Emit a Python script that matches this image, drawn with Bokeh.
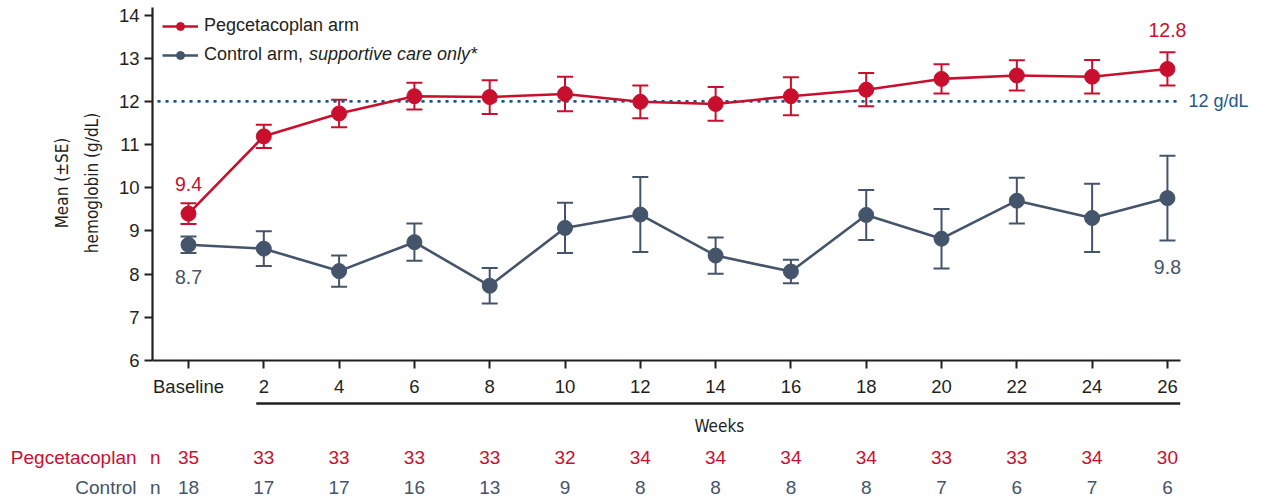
from bokeh.plotting import figure
from bokeh.models import (ColumnDataSource, Whisker, TeeHead, Legend, LegendItem,
                          FixedTicker, Range1d, LinearAxis)
from bokeh.layouts import column
from bokeh.embed import file_html
from bokeh.resources import INLINE
from bokeh.core.properties import value

# ---------------- data ----------------
weeks = ["Baseline", "2", "4", "6", "8", "10", "12", "14", "16", "18", "20", "22", "24", "26"]
peg_mean = [9.40, 11.19, 11.72, 12.12, 12.10, 12.17, 11.99, 11.94, 12.12, 12.27, 12.52, 12.60, 12.57, 12.75]
peg_se = [0.24, 0.27, 0.32, 0.31, 0.39, 0.40, 0.38, 0.39, 0.44, 0.385, 0.34, 0.35, 0.39, 0.385]
ctl_mean = [8.68, 8.59, 8.07, 8.74, 7.73, 9.07, 9.38, 8.43, 8.06, 9.37, 8.82, 9.70, 9.30, 9.76]
ctl_se = [0.19, 0.40, 0.36, 0.43, 0.41, 0.58, 0.87, 0.42, 0.27, 0.58, 0.69, 0.53, 0.79, 0.98]
peg_n = [35, 33, 33, 33, 33, 32, 34, 34, 34, 34, 33, 33, 34, 30]
ctl_n = [18, 17, 17, 16, 13, 9, 8, 8, 8, 8, 7, 6, 7, 6]
row_names = ["Pegcetacoplan", "Control"]
target = 12
label_first = ["9.4", "8.7"]
label_last = ["12.8", "9.8"]

# ---------------- style ----------------
RED = "#c8102e"
SLATE = "#44546a"
BLUE = "#1f5a8c"
INK = "#231f20"
FONT = "Liberation Sans"
NARROW = "'Liberation Sans Narrow', 'DejaVu Sans Condensed', 'Liberation Sans', sans-serif"

xs = list(range(len(weeks)))
X0, X1 = -0.478, 14.236
Y1 = 14.22
PPX = (1260 - 152) / (X1 - X0)
H1 = 399

peg_src = ColumnDataSource(dict(x=xs, y=peg_mean,
                                upper=[m + s for m, s in zip(peg_mean, peg_se)],
                                lower=[m - s for m, s in zip(peg_mean, peg_se)]))
ctl_src = ColumnDataSource(dict(x=xs, y=ctl_mean,
                                upper=[m + s for m, s in zip(ctl_mean, ctl_se)],
                                lower=[m - s for m, s in zip(ctl_mean, ctl_se)]))

p = figure(width=1264, height=H1, x_range=Range1d(X0, X1), y_range=Range1d(6, Y1),
           output_backend="svg", toolbar_location=None,
           min_border_left=152, min_border_right=4, min_border_top=5, min_border_bottom=39,
           x_axis_type=None, y_axis_type=None)
p.frame_align = False
p.outline_line_color = None
p.background_fill_color = "white"
p.border_fill_color = "white"

xaxis = LinearAxis(ticker=FixedTicker(ticks=xs),
                   major_label_overrides={i: w for i, w in enumerate(weeks)},
                   bounds=(X0, 13.17))
yaxis = LinearAxis(ticker=FixedTicker(ticks=list(range(6, 15))), bounds=(6, 14.17),
                   axis_label="Mean (±SE)\nhemoglobin (g/dL)")
for ax in (xaxis, yaxis):
    ax.axis_line_color = INK
    ax.axis_line_width = 2.2
    ax.major_tick_line_color = INK
    ax.major_tick_line_width = 2
    ax.major_tick_out = 8
    ax.major_tick_in = 0
    ax.minor_tick_line_color = None
    ax.major_label_text_font = FONT
    ax.major_label_text_font_size = "18.5px"
    ax.major_label_text_color = INK
xaxis.major_label_standoff = 7
yaxis.major_label_standoff = 5
yaxis.axis_label_text_font = NARROW
yaxis.axis_label_text_font_size = "17px"
yaxis.axis_label_text_font_style = "normal"
yaxis.axis_label_text_color = INK
yaxis.axis_label_text_line_height = 1.5
yaxis.axis_label_standoff = 14
p.add_layout(xaxis, "below")
p.add_layout(yaxis, "left")

# target line
p.segment(x0=[X0 + 0.08], x1=[13.13], y0=[target], y1=[target], line_color=BLUE,
          line_width=2.6, line_dash="1 7", line_cap="round")
p.text(x=[13.28], y=[target], text=[f"{target} g/dL"], text_color=BLUE,
       text_font=value(FONT), text_font_size="18px", text_baseline="middle", text_align="left")

# error bars
for src, col in ((ctl_src, SLATE), (peg_src, RED)):
    w = Whisker(source=src, base="x", upper="upper", lower="lower", line_color=col, line_width=2,
                upper_head=TeeHead(size=16, line_color=col, line_width=2),
                lower_head=TeeHead(size=16, line_color=col, line_width=2))
    p.add_layout(w)

ctl_line = p.line("x", "y", source=ctl_src, line_color=SLATE, line_width=2.6)
ctl_dot = p.scatter("x", "y", source=ctl_src, size=15, fill_color=SLATE, line_color=SLATE)
peg_line = p.line("x", "y", source=peg_src, line_color=RED, line_width=2.6)
peg_dot = p.scatter("x", "y", source=peg_src, size=15, fill_color=RED, line_color=RED)

# value labels
VL = dict(text_font=value(FONT), text_font_size="19.5px", text_align="center", text_baseline="middle")
p.text(x=[xs[0]], y=[peg_mean[0] + 0.69], text=[label_first[0]], text_color=RED, **VL)
p.text(x=[xs[0]], y=[ctl_mean[0] - 0.74], text=[label_first[1]], text_color=SLATE, **VL)
p.text(x=[xs[-1]], y=[peg_mean[-1] + 0.9], text=[label_last[0]], text_color=RED, **VL)
p.text(x=[xs[-1]], y=[ctl_mean[-1] - 1.6], text=[label_last[1]], text_color=SLATE, **VL)

legend = Legend(items=[LegendItem(label="Pegcetacoplan arm", renderers=[peg_line, peg_dot]),
                       LegendItem(label="Control arm,", renderers=[ctl_line, ctl_dot])],
                location="top_left", margin=0, padding=10, spacing=8,
                glyph_width=36, glyph_height=20, label_standoff=6,
                label_text_font=FONT, label_text_font_size="18px", label_text_color=INK,
                background_fill_alpha=0, border_line_alpha=0)
p.add_layout(legend)
p.text(x=[1.6], y=[6 + (360 - 53) / 43.2], text=["supportive care only*"], text_color=INK,
       text_font=value(FONT), text_font_size="18px", text_font_style="italic",
       text_align="left", text_baseline="middle")

# ---------------- table below ----------------
H2 = 499 - H1
q = figure(width=1264, height=H2, x_range=Range1d(X0 - 152 / PPX, X1), y_range=Range1d(H2, 0),
           output_backend="svg", toolbar_location=None,
           min_border_left=0, min_border_right=4, min_border_top=0, min_border_bottom=0,
           x_axis_type=None, y_axis_type=None)
q.frame_align = False
q.outline_line_color = None
q.background_fill_color = "white"
q.border_fill_color = "white"

q.segment(x0=[0.90], x1=[13.17], y0=[4], y1=[4], line_color=INK, line_width=2.4)
q.text(x=[7.05], y=[26], text=["Weeks"], text_color=INK, text_font=value(NARROW),
       text_font_size="17px", text_align="center", text_baseline="middle")

TL = dict(text_font=value(FONT), text_font_size="19px", text_baseline="middle")
q.text(x=[-0.69], y=[58], text=[row_names[0]], text_color=RED, text_align="right", **TL)
q.text(x=[-0.44], y=[58], text=["n"], text_color=RED, text_align="center", **TL)
q.text(x=[-0.69], y=[88], text=[row_names[1]], text_color=SLATE, text_align="right", **TL)
q.text(x=[-0.44], y=[88], text=["n"], text_color=SLATE, text_align="center", **TL)

q.text(x=xs, y=[58] * len(xs), text=[str(n) for n in peg_n], text_color=RED,
       text_align="center", **TL)
q.text(x=xs, y=[88] * len(xs), text=[str(n) for n in ctl_n], text_color=SLATE,
       text_align="center", **TL)

layout = column(p, q, spacing=0)
open("out.html", "w").write(file_html(layout, INLINE))
